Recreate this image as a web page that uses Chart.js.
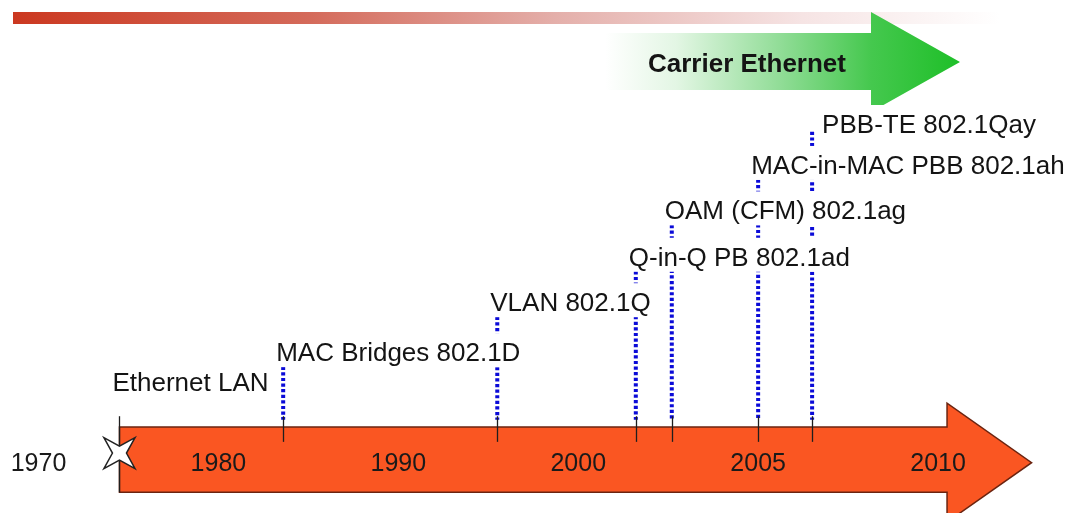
<!DOCTYPE html>
<html>
<head>
<meta charset="utf-8">
<title>Carrier Ethernet timeline</title>
<script src="https://cdn.jsdelivr.net/npm/chart.js@4.4.1/dist/chart.umd.min.js"></script>
<style>
    html, body { margin: 0; padding: 0; background: #fff; }
    #wrap { width: 1071px; height: 513px; position: relative; }
</style>
</head>
<body>
<div id="wrap"><canvas id="timeline"></canvas></div>
<script>
// Tick years, spaced evenly along the arrow (the scale is not linear in time)
const tickYears = [1970, 1980, 1990, 2000, 2005, 2010];

// Standards on the timeline
const eventNames = [
    "Ethernet LAN",
    "MAC Bridges 802.1D",
    "VLAN 802.1Q",
    "Q-in-Q PB 802.1ad",
    "OAM (CFM) 802.1ag",
    "MAC-in-MAC PBB 802.1ah",
    "PBB-TE 802.1Qay"
];
const eventYears = [1974.5, 1983.6, 1995.5, 2001.6, 2002.6, 2005, 2006.5];
// stacking row of each label above the bar
const eventRows = [1.0, 1.67, 2.78, 3.79, 4.82, 5.83, 6.74];

const bannerText = "Carrier Ethernet";

// year -> position on the uneven axis (one unit per tick step)
function yearToSlot(year) {
    const n = tickYears.length;
    for (let i = 0; i < n - 1; i++) {
        if (year <= tickYears[i + 1] || i === n - 2) {
            return i + (year - tickYears[i]) / (tickYears[i + 1] - tickYears[i]);
        }
    }
}

const LABEL_FONT = '26px "Liberation Sans", Arial, sans-serif';
const YEAR_FONT = '25px "Liberation Sans", Arial, sans-serif';

// Dotted blue leader lines, one per standard (the first one has none)
const leaderSets = eventYears.map((yr, i) => ({
    label: eventNames[i],
    data: i === 0 ? [] : [
        { x: yearToSlot(yr), y: eventRows[i] - (i === eventYears.length - 1 ? 0.18 : 0.33) },
        { x: yearToSlot(yr), y: 0.16 }
    ],
    borderColor: "#0b0bd8",
    borderWidth: 4,
    borderDash: [3.2, 2.4],
    borderCapStyle: "butt",
    pointRadius: 0,
    showLine: true,
    fill: false
}));

// Background decoration + the big orange time arrow
const backdrop = {
    id: "backdrop",
    beforeDraw(chart) {
        const ctx = chart.ctx;
        const xs = chart.scales.x, ys = chart.scales.y;
        const px = yr => xs.getPixelForValue(yearToSlot(yr));
        const py = v => ys.getPixelForValue(v);
        ctx.save();

        // faded red bar across the top
        let g = ctx.createLinearGradient(13, 0, 1000, 0);
        g.addColorStop(0, "#cb3820");
        g.addColorStop(0.3, "#d46a5a");
        g.addColorStop(0.55, "#e4afaa");
        g.addColorStop(0.8, "#f6e4e4");
        g.addColorStop(1, "#ffffff");
        ctx.fillStyle = g;
        ctx.fillRect(13, 12, 987, 12);

        // green "Carrier Ethernet" arrow
        g = ctx.createLinearGradient(605, 0, 960, 0);
        g.addColorStop(0, "rgba(255,255,255,1)");
        g.addColorStop(0.2, "#e3f6e4");
        g.addColorStop(0.5, "#8fdc95");
        g.addColorStop(0.75, "#45c84e");
        g.addColorStop(1, "#1ebf28");
        ctx.fillStyle = g;
        ctx.beginPath();
        ctx.moveTo(605, 33);
        ctx.lineTo(871, 33);
        ctx.lineTo(871, 12);
        ctx.lineTo(960, 62);
        ctx.lineTo(871, 112);
        ctx.lineTo(871, 90);
        ctx.lineTo(605, 90);
        ctx.closePath();
        ctx.fill();
        ctx.fillStyle = "#141414";
        ctx.font = 'bold 26px "Liberation Sans", Arial, sans-serif';
        ctx.textBaseline = "alphabetic";
        ctx.fillText(bannerText, 648, 72);

        // orange timeline arrow
        const x0 = px(eventYears[0]);
        const xHead = px(2010.25), xTip = px(2012.6);
        const top = py(0), bot = py(-1.45);
        const mid = (top + bot) / 2 + 3;
        const headTop = py(0.53), headBot = mid + (mid - headTop);
        ctx.beginPath();
        ctx.moveTo(x0, top);
        ctx.lineTo(xHead, top);
        ctx.lineTo(xHead, headTop);
        ctx.lineTo(xTip, mid);
        ctx.lineTo(xHead, headBot);
        ctx.lineTo(xHead, bot);
        ctx.lineTo(x0, bot);
        ctx.closePath();
        ctx.fillStyle = "#fa5622";
        ctx.fill();
        ctx.strokeStyle = "#6b2410";
        ctx.lineWidth = 1.5;
        ctx.stroke();

        ctx.restore();
    }
};

// Labels, tick marks, year numbers and the star at the start
const annotations = {
    id: "annotations",
    afterDatasetsDraw(chart) {
        const ctx = chart.ctx;
        const xs = chart.scales.x, ys = chart.scales.y;
        const px = yr => xs.getPixelForValue(yearToSlot(yr));
        const py = v => ys.getPixelForValue(v);
        ctx.save();

        // thin black ticks where each standard meets the bar
        ctx.strokeStyle = "#1e1e1e";
        ctx.lineWidth = 1.3;
        eventYears.forEach((yr, i) => {
            const x = Math.round(px(yr)) + 0.5;
            ctx.beginPath();
            ctx.moveTo(x, py(0.24));
            ctx.lineTo(x, i === 0 ? py(-1.45) : py(-0.33));
            ctx.stroke();
        });

        // labels on white boxes (they cut through the leader lines behind)
        ctx.font = LABEL_FONT;
        ctx.textBaseline = "alphabetic";
        ctx.textAlign = "left";
        const last = eventNames.length - 1;
        eventNames.forEach((name, i) => {
            const x = px(eventYears[i]) + (i === last ? 10 : -7);
            const base = py(eventRows[i]) + 9.3;
            const w = ctx.measureText(name).width;
            ctx.fillStyle = "#ffffff";
            ctx.fillRect(x - 1, base - 28, w + 2, 34);
            ctx.fillStyle = "#141414";
            ctx.fillText(name, x, base);
        });

        // year numbers
        ctx.font = YEAR_FONT;
        ctx.textAlign = "center";
        ctx.textBaseline = "middle";
        ctx.fillStyle = "#1a1a1a";
        tickYears.forEach(yr => {
            ctx.fillText(String(yr), px(yr), py(-0.8) + 1);
        });

        // four point star
        const cx = px(eventYears[0]), cy = py(-0.58);
        ctx.beginPath();
        for (let k = 0; k < 8; k++) {
            const a = Math.PI / 4 + k * Math.PI / 4 - Math.PI / 2;
            const r = k % 2 === 0 ? 22 : 7;
            const ang = -Math.PI * 3 / 4 + k * Math.PI / 4;
            const xx = cx + r * Math.cos(ang), yy = cy + r * Math.sin(ang);
            if (k === 0) ctx.moveTo(xx, yy); else ctx.lineTo(xx, yy);
        }
        ctx.closePath();
        ctx.fillStyle = "#ffffff";
        ctx.fill();
        ctx.strokeStyle = "#222";
        ctx.lineWidth = 1.5;
        ctx.stroke();

        ctx.restore();
    }
};

new Chart(document.getElementById("timeline"), {
    type: "scatter",
    data: { datasets: leaderSets },
    options: {
        responsive: true,
        maintainAspectRatio: false,
        animation: false,
        layout: { padding: 0 },
        plugins: {
            legend: { display: false },
            tooltip: { enabled: false }
        },
        scales: {
            x: { type: "linear", display: false, min: -0.214, max: 5.739 },
            y: { type: "linear", display: false, min: -1.911, max: 9.489 }
        }
    },
    plugins: [backdrop, annotations]
});
</script>
</body>
</html>
